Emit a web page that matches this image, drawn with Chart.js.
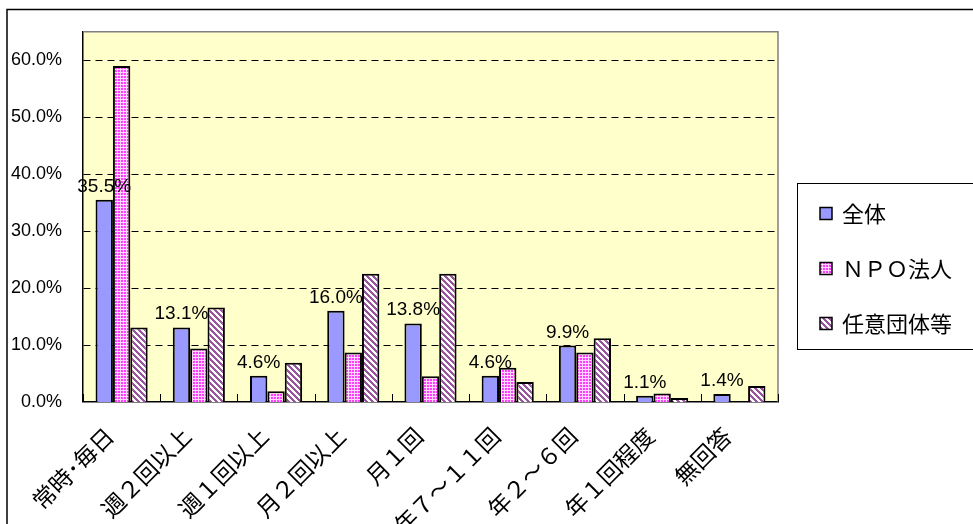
<!DOCTYPE html>
<html>
<head>
<meta charset="utf-8">
<script src="https://cdn.jsdelivr.net/npm/chart.js@4.4.1/dist/chart.umd.min.js"></script>
<style>
html, body { margin: 0; padding: 0; background: #fff; overflow: hidden; }
#wrap { position: relative; width: 973px; height: 524px; }
</style>
</head>
<body>
<div id="wrap"><canvas id="myChart" width="973" height="524"></canvas></div>
<script>
// data (percent)
const categories = ['常時･毎日', '週２回以上', '週１回以上', '月２回以上', '月１回', '年７～１１回', '年２～６回', '年１回程度', '無回答'];
const seriesNames = ['全体', 'ＮＰＯ法人', '任意団体等'];
const zentai = [35.5, 13.1, 4.6, 16.0, 13.8, 4.6, 9.9, 1.1, 1.4];
const npo = [59.0, 9.4, 1.9, 8.7, 4.5, 6.0, 8.7, 1.5, 0];
const nini = [13.1, 16.6, 6.9, 22.5, 22.5, 3.5, 11.2, 0.7, 2.8];
const yTicks = [0, 10, 20, 30, 40, 50, 60];
const yMax = 65;

const numFont = '"Liberation Sans", Arial, sans-serif';
const jpFont = '"Noto Sans CJK JP", "Noto Sans CJK SC", sans-serif';

const canvas = document.getElementById('myChart');
const ctx = canvas.getContext('2d');

function dotPattern() {
    const c = document.createElement('canvas');
    c.width = 3; c.height = 3;
    const g = c.getContext('2d');
    g.fillStyle = '#ffd6ff';
    g.fillRect(0, 0, 3, 3);
    g.fillStyle = '#ff3cff';
    g.fillRect(1, 1, 2, 2);
    return ctx.createPattern(c, 'repeat');
}

function hatchPattern() {
    const c = document.createElement('canvas');
    c.width = 6; c.height = 6;
    const g = c.getContext('2d');
    g.fillStyle = '#ffffff';
    g.fillRect(0, 0, 6, 6);
    g.fillStyle = '#9a55a0';
    for (let y = 0; y < 6; y++) {
        for (let x = 0; x < 6; x++) {
            if (((x - y) % 6 + 6) % 6 < 3) g.fillRect(x, y, 1, 1);
        }
    }
    return ctx.createPattern(c, 'repeat');
}

const fills = ['#9999ff', dotPattern(), hatchPattern()];

// plot background, frame, inner ticks, outer border and legend box
const frame = {
    id: 'frame',
    beforeDraw(chart) {
        const c = chart.ctx, a = chart.chartArea;
        c.save();
        c.fillStyle = '#ffffff';
        c.fillRect(0, 0, chart.width, chart.height);
        c.fillStyle = '#ffffcc';
        c.fillRect(a.left, a.top, a.right - a.left, a.bottom - a.top);
        c.restore();
    },
    afterDraw(chart) {
        const c = chart.ctx, a = chart.chartArea;
        const xs = chart.scales.x;
        c.save();
        // gray plot border top/right
        c.strokeStyle = '#808080';
        c.lineWidth = 1.5;
        c.beginPath();
        c.moveTo(a.left, a.top);
        c.lineTo(a.right, a.top);
        c.lineTo(a.right, a.bottom);
        c.stroke();
        // small inward ticks at category boundaries
        const step = xs.getPixelForValue(1) - xs.getPixelForValue(0);
        c.strokeStyle = '#000';
        c.lineWidth = 1;
        c.beginPath();
        for (let i = 0; i <= categories.length; i++) {
            const x = Math.round(xs.getPixelForValue(0) - step / 2 + i * step) + 0.5;
            c.moveTo(x, a.bottom);
            c.lineTo(x, a.bottom - 8);
        }
        c.stroke();
        // outer chart border (cut by the picture edge)
        c.lineWidth = 1.5;
        c.beginPath();
        c.moveTo(7, chart.height);
        c.lineTo(7, 9.5);
        c.lineTo(chart.width, 9.5);
        c.stroke();
        // legend
        const lx = a.right + 19, ly = 183.5;
        c.fillStyle = '#fff';
        c.fillRect(lx, ly, chart.width - lx + 5, 166);
        c.strokeStyle = '#000';
        c.lineWidth = 1;
        c.strokeRect(lx + 0.5, ly, chart.width - lx + 5, 166);
        c.font = '22px ' + jpFont;
        c.textBaseline = 'middle';
        c.textAlign = 'left';
        chart.data.datasets.forEach((ds, i) => {
            const cy = ly + 30 + i * 55;
            c.fillStyle = ds.backgroundColor;
            c.fillRect(lx + 23, cy - 6, 12, 12);
            c.strokeStyle = '#000';
            c.lineWidth = 1.5;
            c.strokeRect(lx + 23, cy - 6, 12, 12);
            c.fillStyle = '#000';
            c.fillText(ds.label, lx + 45, cy);
        });
        c.restore();
    }
};

// value labels above the 全体 bars
const barLabels = {
    id: 'barLabels',
    afterDatasetsDraw(chart) {
        const c = chart.ctx;
        const meta = chart.getDatasetMeta(0);
        c.save();
        c.font = '19px ' + numFont;
        c.fillStyle = '#000';
        c.textAlign = 'center';
        c.textBaseline = 'alphabetic';
        meta.data.forEach((bar, i) => {
            c.fillText(zentai[i].toFixed(1) + '%', bar.x, bar.y - 8);
        });
        c.restore();
    }
};

const myChart = new Chart(ctx, {
    type: 'bar',
    data: {
        labels: categories,
        datasets: [zentai, npo, nini].map((d, i) => ({
            label: seriesNames[i],
            data: d,
            backgroundColor: fills[i],
            borderColor: '#000',
            borderWidth: 2,
            categoryPercentage: 0.675,
            barPercentage: 1.0
        }))
    },
    options: {
        responsive: false,
        animation: false,
        devicePixelRatio: 1,
        layout: { padding: { top: 27, right: 195, left: 0, bottom: 0 } },
        plugins: {
            legend: { display: false },
            tooltip: { enabled: false }
        },
        scales: {
            x: {
                grid: { display: false },
                border: { color: '#000', width: 1.5 },
                ticks: {
                    autoSkip: false,
                    maxRotation: 45,
                    minRotation: 45,
                    padding: 12,
                    labelOffset: -12,
                    color: '#000',
                    font: { family: jpFont, size: 23 }
                },
                afterFit(s) { s.height = 122; }
            },
            y: {
                min: 0,
                max: yMax,
                afterBuildTicks(s) { s.ticks = yTicks.map(v => ({ value: v })); },
                ticks: {
                    padding: 21,
                    color: '#000',
                    font: { family: numFont, size: 18 },
                    callback: v => v.toFixed(1) + '%'
                },
                grid: {
                    color: '#000',
                    lineWidth: c => (c.tick && c.tick.value === 0 ? 0 : 1),
                    drawTicks: false
                },
                border: { color: '#000', width: 1.5, dash: [7, 5] },
                afterFit(s) { s.width = 83; }
            }
        }
    },
    plugins: [frame, barLabels]
});
</script>
</body>
</html>
